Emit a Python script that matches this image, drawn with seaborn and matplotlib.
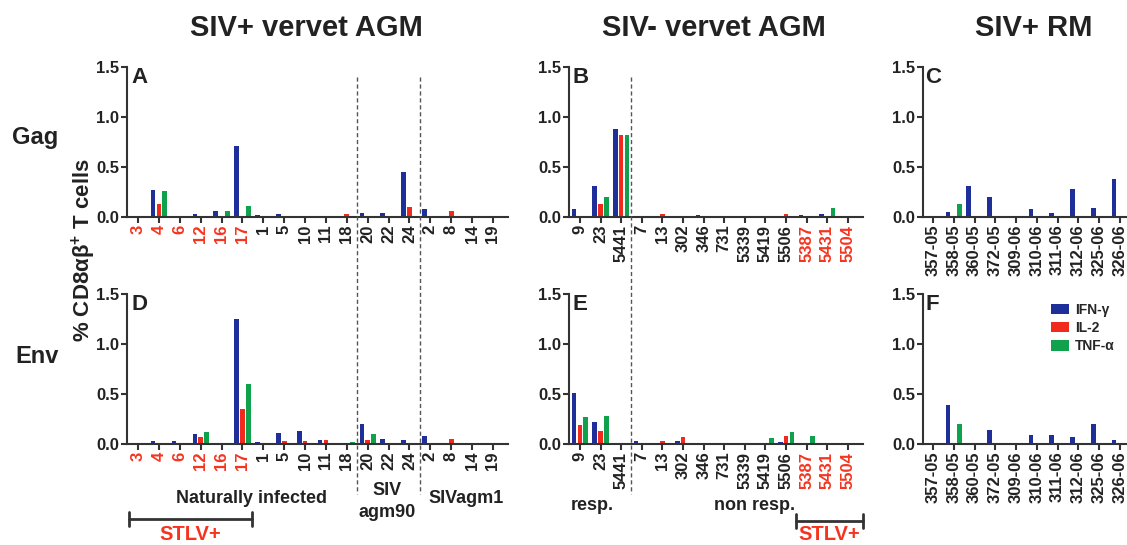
import matplotlib
matplotlib.use('Agg')
import matplotlib.pyplot as plt
import matplotlib.transforms as mtransforms
from matplotlib.lines import Line2D
from matplotlib.patches import Patch
import seaborn as sns
import pandas as pd

# --- animals (x categories) ---
agm_pos_animals = ['3', '4', '6', '12', '16', '17', '1', '5', '10', '11', '18',
                   '20', '22', '24', '2', '8', '14', '19']
agm_neg_animals = ['9', '23', '5441', '7', '13', '302', '346', '731', '5339',
                   '5419', '5506', '5387', '5431', '5504']
rm_animals = ['357-05', '358-05', '360-05', '372-05', '309-06', '310-06',
              '311-06', '312-06', '325-06', '326-06']

stlv_pos = ['3', '4', '6', '12', '16', '17', '5387', '5431', '5504']

cytokines = ['IFN-γ', 'IL-2', 'TNF-α']

# --- Gag ---
gag_pos_ifn = [0, 0.27, 0, 0.027, 0.063, 0.71, 0.017, 0.03, 0, 0, 0, 0.037, 0.037, 0.45, 0.083, 0, 0, 0]
gag_pos_il2 = [0, 0.13, 0, 0.01, 0, 0, 0, 0.01, 0, 0, 0.033, 0, 0, 0.097, 0, 0.057, 0, 0]
gag_pos_tnf = [0, 0.26, 0, 0, 0.06, 0.11, 0, 0, 0, 0, 0, 0, 0, 0, 0, 0, 0, 0]

gag_neg_ifn = [0.077, 0.31, 0.88, 0, 0, 0, 0.02, 0, 0, 0, 0, 0.023, 0.027, 0]
gag_neg_il2 = [0, 0.127, 0.82, 0.01, 0.033, 0, 0, 0.01, 0, 0, 0.03, 0, 0, 0]
gag_neg_tnf = [0, 0.2, 0.82, 0, 0, 0, 0, 0, 0, 0, 0, 0, 0.087, 0]

gag_rm_ifn = [0, 0.047, 0.31, 0.2, 0, 0.077, 0.04, 0.28, 0.09, 0.377]
gag_rm_il2 = [0, 0, 0.01, 0, 0, 0, 0, 0.01, 0, 0.01]
gag_rm_tnf = [0, 0.127, 0, 0, 0, 0, 0, 0, 0, 0]

# --- Env ---
env_pos_ifn = [0, 0.033, 0.027, 0.1, 0, 1.25, 0.02, 0.11, 0.127, 0.043, 0, 0.203, 0.05, 0.043, 0.077, 0.013, 0, 0]
env_pos_il2 = [0, 0, 0, 0.067, 0, 0.353, 0, 0.027, 0.027, 0.04, 0, 0.04, 0, 0, 0, 0.047, 0, 0]
env_pos_tnf = [0, 0, 0, 0.117, 0, 0.603, 0, 0, 0, 0, 0.023, 0.1, 0, 0, 0, 0, 0, 0]

env_neg_ifn = [0.51, 0.223, 0, 0.027, 0, 0.027, 0, 0, 0, 0, 0.017, 0, 0, 0]
env_neg_il2 = [0.187, 0.127, 0.005, 0, 0.03, 0.07, 0.01, 0, 0, 0, 0.077, 0, 0, 0]
env_neg_tnf = [0.27, 0.277, 0, 0, 0, 0, 0, 0, 0, 0.057, 0.12, 0.08, 0, 0]

env_rm_ifn = [0, 0.387, 0, 0.14, 0, 0.09, 0.093, 0.07, 0.203, 0.04]
env_rm_il2 = [0, 0, 0, 0, 0, 0, 0, 0, 0, 0]
env_rm_tnf = [0, 0.2, 0, 0, 0, 0, 0, 0, 0, 0]

colors = ['#1f2f9a', '#f22a1e', '#0fa14c']
red_txt = '#f5341f'
dark = '#222222'

sns.set_style('ticks')
plt.rcParams['font.family'] = ['Liberation Sans', 'DejaVu Sans']
plt.rcParams['font.weight'] = 'bold'
plt.rcParams['mathtext.fontset'] = 'custom'
plt.rcParams['mathtext.rm'] = 'Liberation Sans:bold'
plt.rcParams['mathtext.default'] = 'rm'

W, H = 1127, 545
fig = plt.figure(figsize=(W / 100, H / 100), dpi=100)


def fx(x):
    return x / W


def fy(y):
    return 1 - y / H


def panel(l, t, r, b):
    return fig.add_axes([fx(l), fy(b), (r - l) / W, (b - t) / H])


def long_form(animals, ifn, il2, tnf):
    rows = []
    for name, vals in zip(cytokines, [ifn, il2, tnf]):
        for a, v in zip(animals, vals):
            rows.append({'animal': a, 'cytokine': name, 'value': v})
    return pd.DataFrame(rows)


def draw(ax, animals, ifn, il2, tnf, letter, xlim):
    df = long_form(animals, ifn, il2, tnf)
    sns.barplot(data=df, x='animal', y='value', hue='cytokine', order=animals,
                hue_order=cytokines, palette=colors, width=0.84, gap=0.2,
                errorbar=None, saturation=1, linewidth=0, legend=False, ax=ax)
    ax.set_xlim(*xlim)
    ax.set_ylim(0, 1.5)
    ax.set_yticks([0, 0.5, 1.0, 1.5])
    ax.set_yticklabels(['0.0', '0.5', '1.0', '1.5'])
    ax.set_xticks(range(len(animals)))
    ax.set_xticklabels(animals, rotation=90)
    ax.tick_params(axis='both', labelsize=12, width=1.5, length=4,
                   color='#333333', labelcolor=dark, pad=1.5)
    for lab in ax.get_xticklabels():
        if lab.get_text() in stlv_pos:
            lab.set_color(red_txt)
    ax.set_xlabel('')
    ax.set_ylabel('')
    sns.despine(ax=ax)
    for s in ['left', 'bottom']:
        ax.spines[s].set_linewidth(1.5)
        ax.spines[s].set_color('#333333')
    ax.text(0.012, 1.0, letter, transform=ax.transAxes, fontsize=16,
            fontweight='bold', va='top', ha='left', color=dark)


ax_a = panel(127, 67, 508, 217)
ax_b = panel(569, 67, 863, 217)
ax_c = panel(923, 67, 1127, 217)
ax_d = panel(127, 294, 508, 444)
ax_e = panel(569, 294, 863, 444)
ax_f = panel(923, 294, 1127, 444)

lim_pos = (-0.53, 17.72)
lim_neg = (-0.53, 13.73)
lim_rm = (-0.48, 9.34)

draw(ax_a, agm_pos_animals, gag_pos_ifn, gag_pos_il2, gag_pos_tnf, 'A', lim_pos)
draw(ax_b, agm_neg_animals, gag_neg_ifn, gag_neg_il2, gag_neg_tnf, 'B', lim_neg)
draw(ax_c, rm_animals, gag_rm_ifn, gag_rm_il2, gag_rm_tnf, 'C', lim_rm)
draw(ax_d, agm_pos_animals, env_pos_ifn, env_pos_il2, env_pos_tnf, 'D', lim_pos)
draw(ax_e, agm_neg_animals, env_neg_ifn, env_neg_il2, env_neg_tnf, 'E', lim_neg)
draw(ax_f, rm_animals, env_rm_ifn, env_rm_il2, env_rm_tnf, 'F', lim_rm)

# legend in F
handles = [Patch(facecolor=c, edgecolor='none') for c in colors]
ax_f.legend(handles, cytokines, loc='upper left', frameon=False,
            bbox_to_anchor=(fx(1051), fy(303)), bbox_transform=fig.transFigure,
            borderpad=0, borderaxespad=0, handlelength=1.3, handleheight=0.75,
            handletextpad=0.45, labelspacing=0.3,
            prop={'size': 10, 'weight': 'bold'})

# dashed group separators, spanning both rows
for ax, xs in [(ax_a, [10.5, 13.5]), (ax_b, [2.5])]:
    tr = mtransforms.blended_transform_factory(ax.transData, fig.transFigure)
    for x in xs:
        fig.add_artist(Line2D([x, x], [fy(77), fy(494)], transform=tr,
                              color='#555555', lw=1, ls=(0, (3, 2))))

# brackets for STLV+
for ax, x0, x1, yb in [(ax_d, -0.45, 5.45, 519), (ax_e, 10.5, 13.72, 521)]:
    tr = mtransforms.blended_transform_factory(ax.transData, fig.transFigure)
    fig.add_artist(Line2D([x0, x1], [fy(yb), fy(yb)], transform=tr,
                          color='#333333', lw=2))
    for x in (x0, x1):
        fig.add_artist(Line2D([x, x], [fy(yb - 7), fy(yb + 7)], transform=tr,
                              color='#333333', lw=2))


def ftext(x, y, s, size, color=dark, ha='center', **kw):
    fig.text(fx(x), fy(y), s, fontsize=size, fontweight='bold', color=color,
             ha=ha, va='baseline', **kw)


ftext(306, 36, 'SIV+ vervet AGM', 21)
ftext(714, 36, 'SIV- vervet AGM', 21)
ftext(1034, 36, 'SIV+ RM', 21)

ftext(35, 144, 'Gag', 17)
ftext(37, 363, 'Env', 17)
fig.text(fx(84), fy(250), '% CD8αβ$^{+}$ T cells', fontsize=16,
         fontweight='bold', color=dark, rotation=90, ha='center', va='center')

ftext(252, 503, 'Naturally infected', 13)
ftext(387, 495, 'SIV', 13)
ftext(387, 517, 'agm90', 13)
ftext(466, 503, 'SIVagm1', 13)
ftext(190, 540, 'STLV+', 14.5, color=red_txt)

ftext(592, 510, 'resp.', 13)
ftext(755, 510, 'non resp.', 13)
ftext(829, 540, 'STLV+', 14.5, color=red_txt)

fig.savefig('out.png', dpi=100)
